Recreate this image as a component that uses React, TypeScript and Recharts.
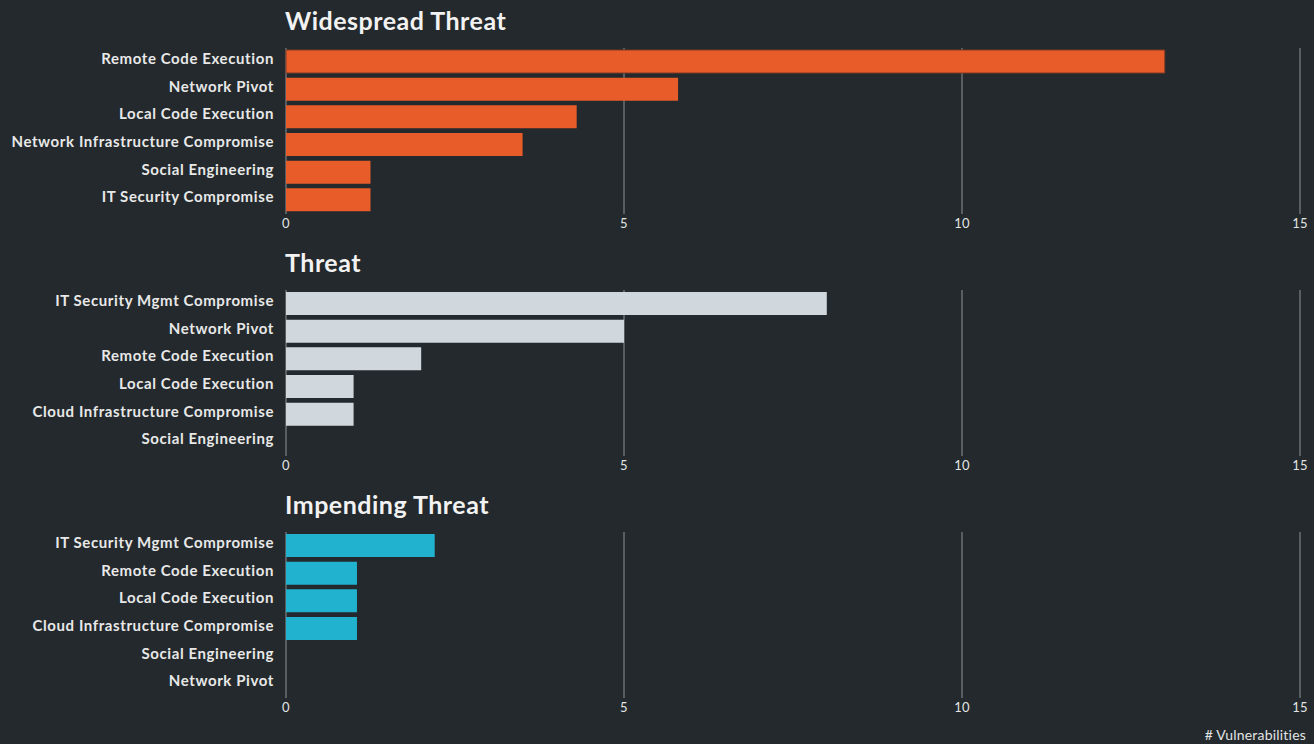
import React from 'react';
import { BarChart, Bar, XAxis, YAxis, CartesianGrid, Cell } from 'recharts';

const xTicks = [0, 5, 10, 15];

const widespreadCategories = [
  'Remote Code Execution',
  'Network Pivot',
  'Local Code Execution',
  'Network Infrastructure Compromise',
  'Social Engineering',
  'IT Security Compromise',
];
const widespreadValues = [13, 5.8, 4.3, 3.5, 1.25, 1.25];

const threatCategories = [
  'IT Security Mgmt Compromise',
  'Network Pivot',
  'Remote Code Execution',
  'Local Code Execution',
  'Cloud Infrastructure Compromise',
  'Social Engineering',
];
const threatValues = [8, 5, 2, 1, 1, 0];

const impendingCategories = [
  'IT Security Mgmt Compromise',
  'Remote Code Execution',
  'Local Code Execution',
  'Cloud Infrastructure Compromise',
  'Social Engineering',
  'Network Pivot',
];
const impendingValues = [2.2, 1.05, 1.05, 1.05, 0, 0];

const BG = '#23292c';
const FONT = 'Lato, "Noto Sans", sans-serif';

interface PanelProps {
  title: string;
  categories: string[];
  values: number[];
  color: string;
  outlineFirst?: boolean;
}

function Panel({ title, categories, values, color, outlineFirst }: PanelProps) {
  const data = categories.map((name, i) => ({ name, value: values[i] }));
  return (
    <div style={{ position: 'relative', width: 1314, height: 242 }}>
      <div
        style={{
          position: 'absolute',
          left: 285,
          top: 4,
          fontFamily: FONT,
          fontWeight: 700,
          fontSize: 25,
          letterSpacing: 0.5,
          color: '#f2f2f2',
          lineHeight: '32px',
        }}
      >
        {title}
      </div>
      <BarChart
        width={1314}
        height={242}
        data={data}
        layout="vertical"
        margin={{ top: 48, right: 14, bottom: 0, left: 0 }}
        barSize={23}
      >
        <CartesianGrid horizontal={false} stroke="#8d9396" strokeWidth={1} />
        <XAxis
          type="number"
          domain={[0, 15]}
          ticks={xTicks}
          axisLine={false}
          tickLine={false}
          tickSize={0}
          tickMargin={5}
          height={28}
          tick={{ fill: '#e2e4e5', fontSize: 13, fontFamily: FONT, fontWeight: 400, letterSpacing: 0.3 }}
        />
        <YAxis
          type="category"
          dataKey="name"
          width={286}
          interval={0}
          axisLine={false}
          tickLine={false}
          tickSize={0}
          tickMargin={12}
          tick={{
            fill: '#e8e8e8',
            fontSize: 15,
            fontFamily: FONT,
            fontWeight: 700,
            letterSpacing: 0.6,
            dy: -3,
          }}
        />
        <Bar dataKey="value" fill={color} isAnimationActive={false}>
          {data.map((d, i) => (
            <Cell
              key={d.name}
              fill={color}
              stroke={outlineFirst && i === 0 ? '#7e3a22' : 'none'}
              strokeWidth={1}
            />
          ))}
        </Bar>
      </BarChart>
    </div>
  );
}

export default function App() {
  return (
    <div
      style={{
        position: 'absolute',
        left: 0,
        top: 0,
        width: 1314,
        height: 744,
        background: BG,
        overflow: 'hidden',
      }}
    >
      <Panel
        title="Widespread Threat"
        categories={widespreadCategories}
        values={widespreadValues}
        color="#e85c2a"
        outlineFirst
      />
      <Panel title="Threat" categories={threatCategories} values={threatValues} color="#d0d8de" />
      <Panel
        title="Impending Threat"
        categories={impendingCategories}
        values={impendingValues}
        color="#20b2ce"
      />
      <div
        style={{
          position: 'absolute',
          right: 8,
          top: 726,
          fontFamily: FONT,
          fontWeight: 400,
          fontSize: 14,
          letterSpacing: 0.2,
          color: '#e2e4e5',
        }}
      >
        # Vulnerabilities
      </div>
    </div>
  );
}
